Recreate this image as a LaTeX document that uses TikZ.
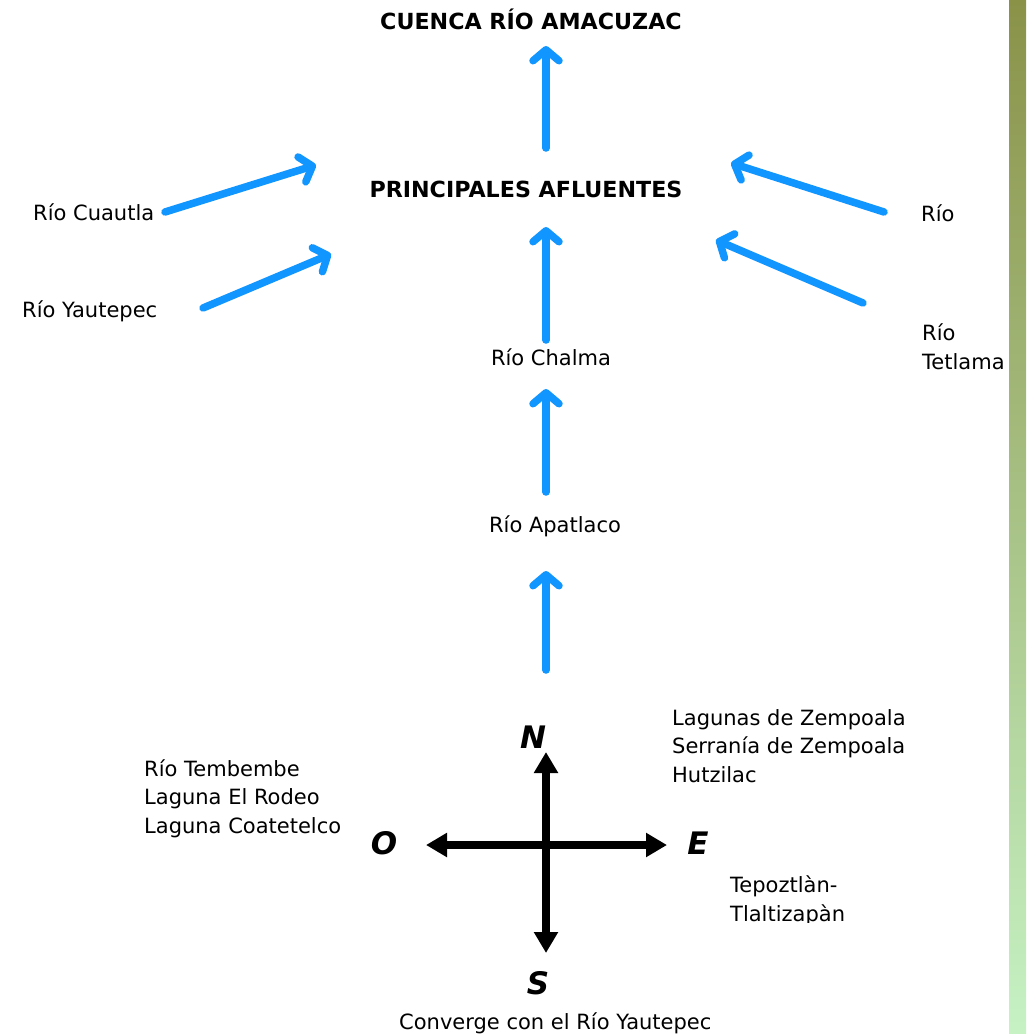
\documentclass[tikz,border=0pt]{standalone}
\usepackage{fontspec}
\setmainfont{DejaVu Sans}
\usetikzlibrary{arrows.meta}
\definecolor{riverblue}{RGB}{17,150,255}
\definecolor{bartop}{RGB}{138,146,72}
\definecolor{barbot}{RGB}{198,242,196}
\tikzset{
  lbl/.style={font=\fontsize{21}{28.5}\selectfont, inner sep=0pt, align=left},
  ttl/.style={font=\fontsize{22.2}{26}\selectfont\bfseries, inner sep=0pt},
  cmp/.style={font=\fontsize{31}{34}\selectfont\bfseries\itshape, inner sep=0pt},
  flow/.style={draw=riverblue, line width=7.5pt, line cap=round,
    -{Straight Barb[length=11pt, width=26pt, round]}},
  compass/.style={draw=black, line width=8pt,
    {Triangle[length=21pt, width=23pt]}-{Triangle[length=21pt, width=23pt]}}
}
\begin{document}
\begin{tikzpicture}[x=1pt,y=-1pt]
\useasboundingbox (0,0) rectangle (1026,1034);
\fill[white] (0,0) rectangle (1026,1034);
\shade[top color=bartop, bottom color=barbot] (1009,0) rectangle (1026,1034);

% titles
\node[ttl, anchor=base] (cuenca) at (531,29) {CUENCA RÍO AMACUZAC};
\node[ttl, anchor=base] (afl) at (526,197) {PRINCIPALES AFLUENTES};

% labels (base anchor = baseline of the last line)
\node[lbl, anchor=base west] (cuautla) at (33,220) {Río Cuautla};
\node[lbl, anchor=base west] (yautepec) at (22,317) {Río Yautepec};
\node[lbl, anchor=base west] (rio) at (921,221) {Río};
\node[lbl, anchor=base west] (tetlama) at (922,369) {Río\\Tetlama};
\node[lbl, anchor=base] (chalma) at (551,365) {Río Chalma};
\node[lbl, anchor=base] (apatlaco) at (555,532) {Río Apatlaco};
\node[lbl, anchor=base west] (zempoala) at (672,782) {Lagunas de Zempoala\\Serranía de Zempoala\\Hutzilac};
\node[lbl, anchor=base west] (tembembe) at (144,833) {Río Tembembe\\Laguna El Rodeo\\Laguna Coatetelco};
\begin{scope}
  \clip (700,860) rectangle (900,922);
  \node[lbl, anchor=base west] (tepoz) at (730,921) {Tepoztlàn-\\Tlaltizapàn};
\end{scope}
\node[lbl, anchor=base west] (converge) at (399,1029) {Converge con el Río Yautepec};

% compass letters
\node[cmp, anchor=base] (N) at (533,748) {N};
\node[cmp, anchor=base] (O) at (384,854) {O};
\node[cmp, anchor=base] (E) at (698,854) {E};
\node[cmp, anchor=base] (S) at (538,994) {S};

% connector end points
\coordinate (aflTop) at (546,148);
\coordinate (cuencaBot) at (546,46);
\coordinate (cuautlaE) at (165,212);
\coordinate (aflL1) at (316,165);
\coordinate (yautepecE) at (203,308);
\coordinate (aflL2) at (331,254);
\coordinate (rioW) at (884,212);
\coordinate (aflR1) at (731,163);
\coordinate (tetlamaW) at (863,303);
\coordinate (aflR2) at (716,240);
\coordinate (chalmaTop) at (546,340);
\coordinate (aflBot) at (546,227);
\coordinate (apatlacoTop) at (546,492);
\coordinate (chalmaBot) at (546,389);
\coordinate (compassTop) at (546,670);
\coordinate (apatlacoBot) at (546,571);
\coordinate (cN) at (546,752);
\coordinate (cS) at (546,953);
\coordinate (cW) at (426,845);
\coordinate (cE) at (667,845);

% blue flow arrows
\draw[flow] (aflTop) -- (cuencaBot);
\draw[flow] (cuautlaE) -- (aflL1);
\draw[flow] (yautepecE) -- (aflL2);
\draw[flow] (rioW) -- (aflR1);
\draw[flow] (tetlamaW) -- (aflR2);
\draw[flow] (chalmaTop) -- (aflBot);
\draw[flow] (apatlacoTop) -- (chalmaBot);
\draw[flow] (compassTop) -- (apatlacoBot);

% compass
\draw[compass] (cS) -- (cN);
\draw[compass] (cW) -- (cE);
\end{tikzpicture}
\end{document}
